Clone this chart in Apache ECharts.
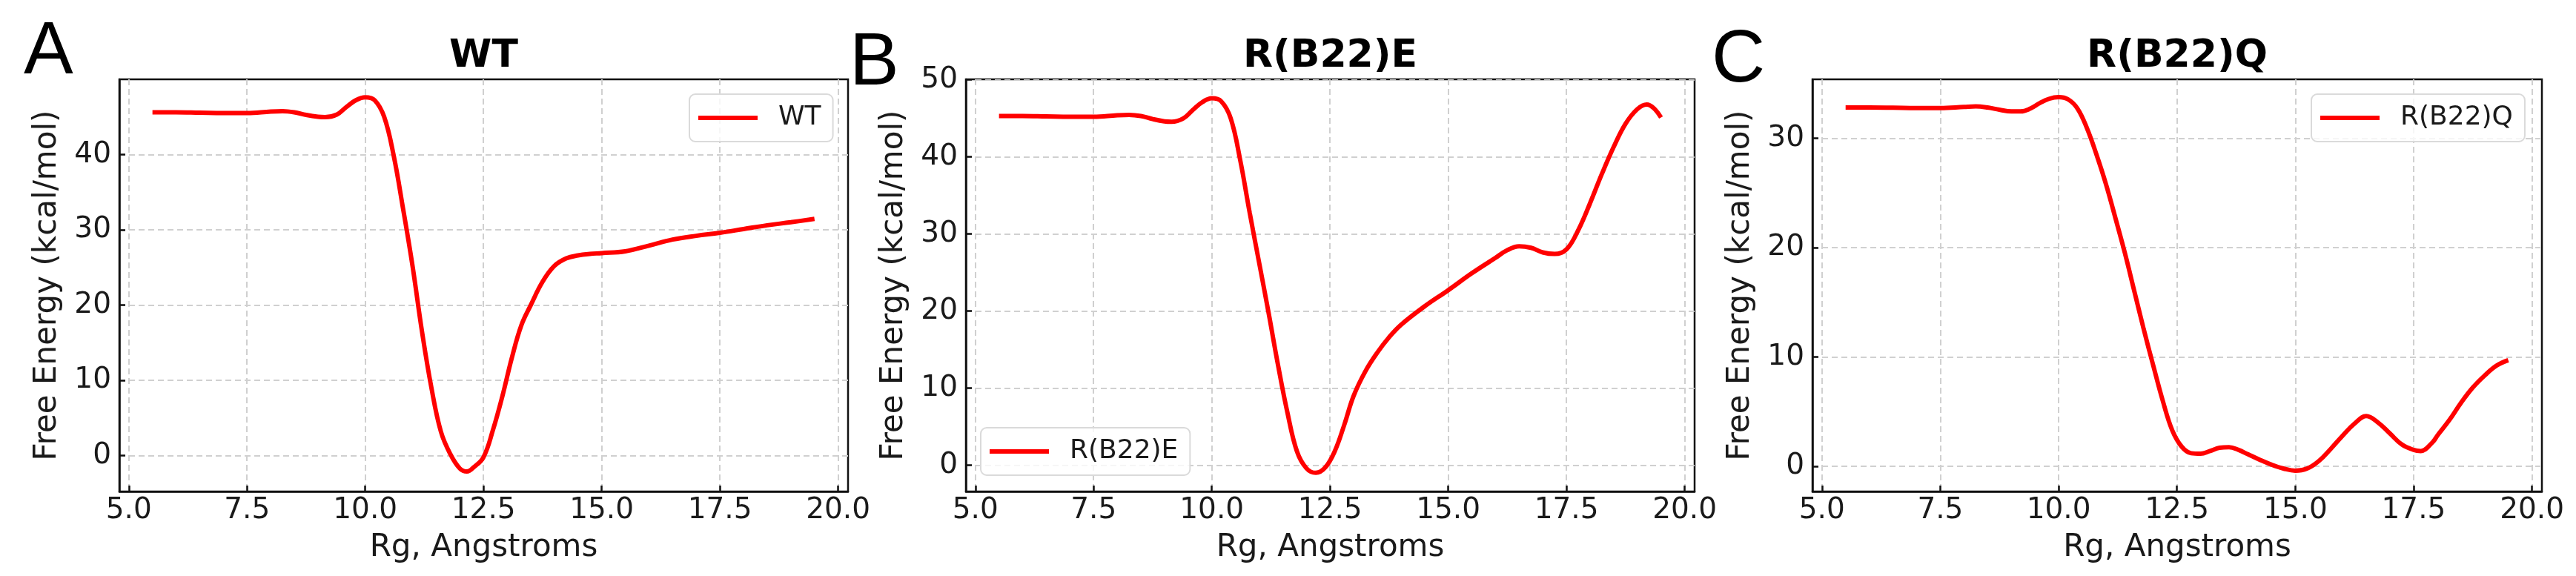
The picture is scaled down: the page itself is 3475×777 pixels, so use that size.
<!DOCTYPE html>
<html>
<head>
<meta charset="utf-8">
<script src="https://cdn.jsdelivr.net/npm/echarts@6/dist/echarts.min.js"></script>
<style>
html,body{margin:0;padding:0;background:#fff;}
#chart{width:3475px;height:777px;}
</style>
</head>
<body>
<div id="chart"></div>
<script>
// ---- data ----
const panelLetters = ['A', 'B', 'C'];
const panelTitles = ['WT', 'R(B22)E', 'R(B22)Q'];
const seriesNames = ['WT', 'R(B22)E', 'R(B22)Q'];
const xTickValues = [5, 7.5, 10, 12.5, 15, 17.5, 20];
const yTickValuesWT = [0, 10, 20, 30, 40];
const yTickValuesE = [0, 10, 20, 30, 40, 50];
const yTickValuesQ = [0, 10, 20, 30];
const xAxisName = 'Rg, Angstroms';
const yAxisName = 'Free Energy (kcal/mol)';

const wtX = [5.5, 6.0, 6.5, 7.0, 7.5, 8.0, 8.25, 8.5, 8.75, 9.0, 9.15, 9.4, 9.6, 9.8, 10.0, 10.2, 10.4, 10.6, 10.8, 11.0, 11.2, 11.4, 11.6, 11.8, 12.0, 12.15, 12.3, 12.5, 12.7, 12.9, 13.1, 13.3, 13.5, 13.75, 14.0, 14.25, 14.5, 14.75, 15.0, 15.5, 16.0, 16.5, 17.0, 17.5, 18.0, 18.5, 19.0, 19.5];
const wtY = [45.6, 45.6, 45.55, 45.5, 45.5, 45.7, 45.75, 45.6, 45.25, 45.0, 44.95, 45.3, 46.3, 47.2, 47.6, 47.2, 45.0, 39.9, 32.8, 25.2, 16.5, 9.0, 3.2, 0.2, -1.7, -2.1, -1.5, -0.2, 3.4, 7.9, 13.0, 17.3, 20.0, 23.1, 25.2, 26.2, 26.6, 26.8, 26.9, 27.15, 27.9, 28.7, 29.2, 29.6, 30.1, 30.6, 31.0, 31.45];

const eX = [5.5, 6.0, 6.5, 7.0, 7.5, 8.0, 8.25, 8.5, 8.75, 9.0, 9.15, 9.4, 9.6, 9.8, 10.0, 10.2, 10.4, 10.6, 10.8, 11.0, 11.2, 11.4, 11.6, 11.8, 12.0, 12.2, 12.4, 12.6, 12.8, 13.0, 13.25, 13.5, 13.75, 14.0, 14.5, 15.0, 15.5, 16.0, 16.25, 16.5, 16.75, 17.0, 17.25, 17.5, 17.75, 18.0, 18.25, 18.5, 18.75, 19.0, 19.2, 19.35, 19.5];
const eY = [45.3, 45.3, 45.25, 45.2, 45.2, 45.4, 45.45, 45.3, 44.9, 44.6, 44.55, 45.0, 46.1, 47.1, 47.6, 47.2, 45.0, 39.6, 32.8, 26.3, 19.8, 13.0, 6.8, 1.8, -0.4, -1.0, -0.3, 1.8, 5.2, 9.0, 12.2, 14.6, 16.6, 18.2, 20.6, 22.7, 24.9, 26.9, 27.9, 28.4, 28.2, 27.6, 27.4, 28.0, 30.5, 34.0, 37.8, 41.3, 44.3, 46.2, 46.8, 46.3, 45.1];

const qX = [5.5, 6.0, 6.5, 7.0, 7.5, 8.0, 8.25, 8.5, 8.75, 9.0, 9.2, 9.4, 9.6, 9.8, 10.0, 10.2, 10.4, 10.6, 10.8, 11.0, 11.2, 11.4, 11.6, 11.8, 12.0, 12.2, 12.4, 12.6, 12.8, 13.0, 13.2, 13.4, 13.6, 13.8, 14.0, 14.25, 14.5, 14.75, 15.0, 15.25, 15.5, 15.75, 16.0, 16.25, 16.5, 16.75, 17.0, 17.25, 17.5, 17.65, 17.9, 18.0, 18.25, 18.5, 18.75, 19.0, 19.25, 19.5];
const qY = [32.8, 32.8, 32.78, 32.75, 32.75, 32.85, 32.9, 32.8, 32.6, 32.45, 32.45, 32.7, 33.2, 33.6, 33.75, 33.55, 32.7, 30.9, 28.5, 25.8, 22.7, 19.5, 16.0, 12.5, 9.2, 6.0, 3.3, 1.8, 1.2, 1.15, 1.4, 1.7, 1.75, 1.5, 1.1, 0.6, 0.15, -0.2, -0.4, -0.2, 0.5, 1.6, 2.8, 3.9, 4.6, 4.0, 3.0, 2.0, 1.5, 1.4, 2.2, 2.8, 4.2, 5.8, 7.2, 8.3, 9.2, 9.7];

// ---- layout / style ----
const grids = [
  {left: 161, top: 107, width: 983, height: 556},
  {left: 1303, top: 107, width: 983, height: 556},
  {left: 2445, top: 107, width: 984, height: 556}
];
const yRanges = [[-4.75, 49.98], [-3.42, 50.06], [-2.3, 35.38]];
const yTicks = [yTickValuesWT, yTickValuesE, yTickValuesQ];
const xs = [wtX, eX, qX];
const ys = [wtY, eY, qY];
const legendPos = [{left: 930, top: 127}, {left: 1323, top: 577}, {left: 3118, top: 127}];
const letterPos = [{x: 32, y: 71}, {x: 1146, y: 86}, {x: 2309, y: 82}];

const FONT = 'DejaVu Sans';
const TXT = '#1a1a1a';
const gridLine = {show: true, lineStyle: {color: '#d0d0d0', width: 2, type: [8, 5]}};

const option = {
  animation: false,
  backgroundColor: '#fff',
  grid: grids.map(g => Object.assign({show: true, borderColor: '#111', borderWidth: 2.5, backgroundColor: 'transparent', containLabel: false}, g)),
  xAxis: grids.map((g, i) => ({
    type: 'value', gridIndex: i, min: 4.8, max: 20.21,
    name: xAxisName, nameLocation: 'middle', nameGap: 55,
    nameTextStyle: {fontFamily: FONT, fontSize: 42, color: TXT},
    axisLine: {show: true, onZero: false, lineStyle: {color: '#111', width: 2.5}},
    axisTick: {show: true, inside: true, length: 8, lineStyle: {color: '#111', width: 2.5}, customValues: xTickValues},
    axisLabel: {show: true, margin: 6, fontFamily: FONT, fontSize: 39, color: TXT, customValues: xTickValues,
      formatter: v => Number(v).toFixed(1)},
    splitLine: gridLine
  })),
  yAxis: grids.map((g, i) => ({
    type: 'value', gridIndex: i, min: yRanges[i][0], max: yRanges[i][1],
    name: yAxisName, nameLocation: 'middle', nameGap: 76,
    nameTextStyle: {fontFamily: FONT, fontSize: 42, color: TXT},
    axisLine: {show: true, onZero: false, lineStyle: {color: '#111', width: 2.5}},
    axisTick: {show: true, inside: true, length: 8, lineStyle: {color: '#111', width: 2.5}, customValues: yTicks[i]},
    axisLabel: {show: true, margin: 11, fontFamily: FONT, fontSize: 39, color: TXT, customValues: yTicks[i],
      formatter: v => String(Math.round(v))},
    splitLine: gridLine
  })),
  legend: legendPos.map((p, i) => ({
    left: p.left, top: p.top, orient: 'vertical',
    data: [seriesNames[i]],
    icon: 'rect', itemWidth: 80, itemHeight: 6,
    padding: [14, 16, 14, 12],
    borderColor: '#dadada', borderWidth: 2, borderRadius: 8,
    backgroundColor: 'rgba(255,255,255,0.8)',
    textStyle: {fontFamily: FONT, fontSize: 36, color: TXT, padding: [0, 0, 0, 23]}
  })),
  series: seriesNames.map((n, i) => ({
    name: n, type: 'line', xAxisIndex: i, yAxisIndex: i,
    data: xs[i].map((x, k) => [x, ys[i][k]]),
    symbol: 'none', showSymbol: false, smooth: 0.4,
    color: '#ff0000',
    lineStyle: {color: '#ff0000', width: 6},
    z: 5
  })),
  graphic: [].concat(
    grids.map((g, i) => ({
      type: 'text', x: g.left + g.width / 2, y: 76.6,
      style: {text: panelTitles[i], fontFamily: FONT, fontWeight: 'bold', fontSize: 52, fill: '#000', textAlign: 'center', textVerticalAlign: 'middle'}
    })),
    letterPos.map((p, i) => ({
      type: 'text', x: p.x, y: p.y,
      style: {text: panelLetters[i], fontFamily: 'Liberation Sans', fontSize: 100, fill: '#000', textAlign: 'left', textVerticalAlign: 'middle'}
    }))
  )
};

const chart = echarts.init(document.getElementById('chart'), null, {renderer: 'canvas'});
chart.setOption(option);
</script>
</body>
</html>
